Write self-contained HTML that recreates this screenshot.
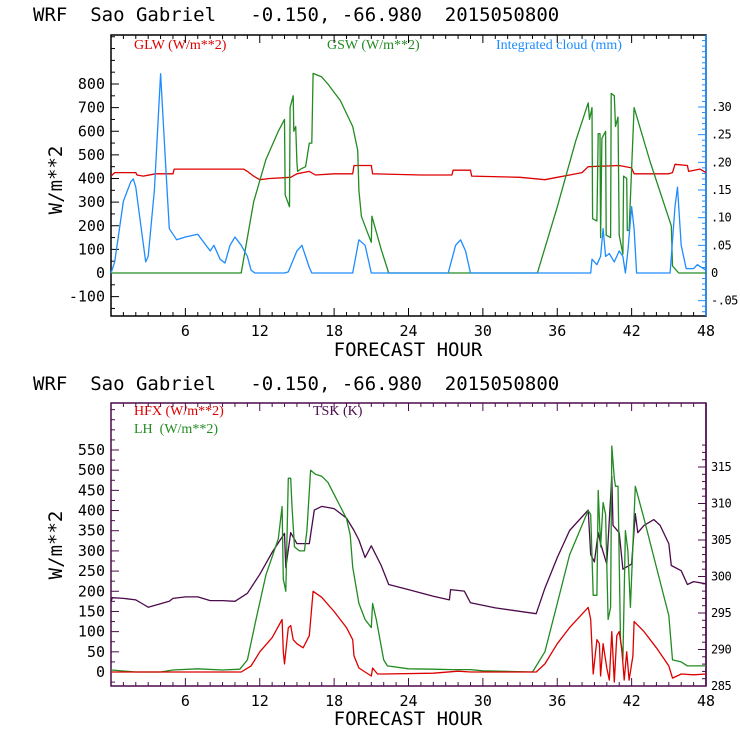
<!DOCTYPE html>
<html><head><meta charset="utf-8"><style>
html,body{margin:0;padding:0;background:#fff;width:740px;height:740px;overflow:hidden}
svg{display:block}
.t{font-family:"DejaVu Sans Mono","Liberation Mono",monospace;font-size:15px;fill:#000}
.r{font-family:"DejaVu Sans Mono","Liberation Mono",monospace;font-size:12px;fill:#000;letter-spacing:-0.5px}
.title{font-family:"DejaVu Sans Mono","Liberation Mono",monospace;font-size:19px;fill:#000}
.lg{font-family:"Liberation Serif",serif;font-size:14px;font-weight:normal}
</style></head><body>
<svg id="chart" width="740" height="740" viewBox="0 0 740 740" xmlns="http://www.w3.org/2000/svg">
<text class="title" x="33" y="21" xml:space="preserve">WRF  Sao Gabriel   -0.150, -66.980  2015050800</text>
<text class="title" x="33" y="390" xml:space="preserve">WRF  Sao Gabriel   -0.150, -66.980  2015050800</text>
<text class="lg" x="134" y="49" fill="#dd0000">GLW (W/m**2)</text>
<text class="lg" x="327" y="49" fill="#228b22">GSW (W/m**2)</text>
<text class="lg" x="496" y="49" fill="#1e8cff">Integrated cloud (mm)</text>
<text class="lg" x="134" y="415" fill="#dd0000">HFX (W/m**2)</text>
<text class="lg" x="134" y="433" fill="#228b22" xml:space="preserve">LH  (W/m**2)</text>
<text class="lg" x="313" y="415" fill="#4b0a4b">TSK (K)</text>
<text class="title" transform="translate(62,180) rotate(-90)" text-anchor="middle">W/m**2</text>
<text class="title" transform="translate(62,545) rotate(-90)" text-anchor="middle">W/m**2</text>
<text class="title" x="408" y="356" text-anchor="middle">FORECAST HOUR</text>
<text class="title" x="408" y="725" text-anchor="middle">FORECAST HOUR</text>
</svg>
<script>
// ---- top chart data ----
const glwHours = [0,0.3,2,2.1,2.6,3.6,5,5.1,10.7,11,11.5,12,12.8,14.5,15,16,16.5,18,19.5,19.6,21,21.1,25,27.5,27.6,29,29.1,33,35,36,37,38,38.5,41,42,42.2,45,45.3,45.5,46.5,46.6,47.5,48];
const glwValues = [410,425,425,415,410,420,420,440,440,430,410,395,400,405,420,430,415,420,420,455,455,420,415,415,435,435,410,405,395,405,415,425,450,455,445,420,420,425,460,455,430,440,425];
const gswHours = [0,10.5,11.5,12.5,13.5,14.0,14.05,14.4,14.45,14.7,14.75,14.9,15.0,15.05,15.3,15.7,16.0,16.2,16.3,17.0,17.5,18.5,19.5,19.9,20.0,20.2,20.7,21.0,21.05,21.8,22.4,34.4,36,37.5,38.5,38.6,38.8,38.85,39.2,39.3,39.45,39.5,39.6,39.9,39.95,40.3,40.35,40.6,40.7,40.9,41.0,41.3,41.35,41.6,41.65,41.8,42.2,43.5,45.2,45.3,45.8,48];
const gswValues = [0,0,300,480,600,650,330,280,700,750,600,620,470,430,440,450,550,550,845,830,800,730,620,520,350,240,170,130,240,100,0,0,280,560,720,650,700,230,220,590,590,150,570,600,160,150,760,750,620,660,160,80,410,400,180,180,700,470,200,30,0,0];
const cloudHours = [0,0.3,1,1.6,1.8,2,2.5,2.8,3.0,3.5,4.0,4.4,4.7,5.3,6,7,7.5,8,8.3,8.8,9.2,9.6,10,10.5,11,11.3,11.6,14,14.3,15,15.4,16,16.2,19.5,20,20.5,21,27.2,27.8,28.2,28.6,29,38.7,38.8,39.2,39.5,39.7,39.9,40.2,40.6,41,41.3,41.5,41.7,42,42.2,42.4,45.1,45.5,45.7,46,46.4,47,47.3,48];
const cloudValues = [0,0.02,0.13,0.165,0.17,0.155,0.07,0.02,0.03,0.15,0.36,0.2,0.08,0.06,0.065,0.07,0.055,0.04,0.05,0.025,0.018,0.05,0.065,0.05,0.03,0.005,0,0,0.002,0.04,0.05,0.01,0,0,0.06,0.05,0,0,0.05,0.06,0.04,0,0,0.025,0.015,0.03,0.08,0.03,0.035,0.02,0.04,0.03,0,0.04,0.12,0.08,0,0,0.12,0.155,0.05,0.008,0.008,0.015,0.005];
const topLeftTicks = [-100,0,100,200,300,400,500,600,700,800];
const topRightTicks = [-0.05,0,0.05,0.10,0.15,0.20,0.25,0.30];
const topRightLabels = ["-.05","0",".05",".10",".15",".20",".25",".30"];
// ---- bottom chart data ----
const tskHours = [0,0.1,1,2,2.5,3,4.7,5,6,7,8,9,10,11,12,13,14,14.1,14.5,15,16,16.4,17,18,19,19.6,20,20.5,21,21.8,22.4,24,26,27.3,27.4,28.5,29,31,34.3,35,36,37,38.5,38.7,39,39.3,39.5,40,40.4,40.5,41,41.3,41.5,42,42.3,42.5,43,43.8,44.3,45,45.2,46,46.5,47,48];
const tskValues = [296.5,297.1,297,296.8,296.3,295.8,296.6,297,297.2,297.2,296.7,296.7,296.6,297.7,300.3,303.3,305.9,301.2,306,304.5,304.5,309.1,309.6,309.3,308,306.3,305,302.6,304.2,301.5,298.9,298.2,297.3,296.8,298.2,298,296.4,295.7,294.9,298.4,302.6,306.3,309.1,303,302,306,304.5,301.7,313.7,307,306,301,301.2,301.7,308.6,306,307,307.8,307,304.5,301.5,300.8,298.9,299.3,299];
const hfxHours = [0,10.5,11.3,12,13,13.8,13.9,14.0,14.3,14.5,14.7,15,15.5,16,16.3,17,18,19,19.5,19.6,20,20.5,21,21.1,21.5,22,26,28,29,34.3,35,36,37,38.5,38.7,38.9,39.2,39.4,39.5,39.7,40,40.2,40.4,40.6,40.8,41,41.2,41.4,41.6,41.8,42.1,42.2,43,44,45,45.3,46,47,48];
const hfxValues = [0,0,15,50,85,130,50,20,110,115,80,70,60,90,200,185,150,110,80,40,10,0,-10,10,-5,-5,-3,2,0,0,20,70,110,160,130,-5,80,70,-10,70,10,-20,100,-25,90,100,60,-20,50,-20,40,125,100,60,15,-15,-5,-7,-5];
const lhHours = [0,2,4,5,7,9,10.4,11,11.7,12.5,13.5,13.8,13.9,14.1,14.3,14.5,14.6,14.8,15.2,15.6,15.8,16.1,16.5,17,17.5,18,18.5,19,19.3,19.5,20,20.5,21,21.1,21.4,22,22.3,24,26,27.5,29,30,34,35,36,37,38.5,38.7,38.9,39.2,39.3,39.5,39.7,39.9,40.1,40.3,40.4,40.6,40.7,40.9,41.1,41.3,41.5,41.7,41.9,42.3,43,44,45,45.3,46,46.5,48];
const lhValues = [5,0,0,5,8,5,7,30,130,240,330,410,230,200,480,480,410,310,300,300,350,500,490,485,470,440,410,380,340,260,170,130,110,170,130,30,15,8,7,6,6,3,0,50,170,290,400,390,190,190,450,310,420,390,130,160,560,480,460,460,80,30,350,300,160,460,380,260,140,30,25,15,15];
const botLeftTicks = [0,50,100,150,200,250,300,350,400,450,500,550];
const botRightTicks = [285,290,295,300,305,310,315];
const xTicks = [6,12,18,24,30,36,42,48];

const svg = document.getElementById('chart');
const NS = 'http://www.w3.org/2000/svg';
function mk(tag, attrs){const e=document.createElementNS(NS,tag);for(const k in attrs)e.setAttribute(k,attrs[k]);svg.appendChild(e);return e;}
const X0=111, X1=706;
function xs(h){return X0+(X1-X0)*h/48;}
function linScale(v0,p0,v1,p1){return v=>p0+(v-v0)*(p1-p0)/(v1-v0);}
const yTopL = linScale(0,273,800,84);
const yTopR = linScale(0,273,0.30,107);
const yBotL = linScale(0,672,550,450);
const yBotR = linScale(285,686,315,467);

function pathOf(hours, vals, ys){let d='';for(let i=0;i<hours.length;i++){d+=(i?'L':'M')+xs(hours[i]).toFixed(1)+','+ys(vals[i]).toFixed(1);}return d;}

function frame(top,bot,leftColor,rightColor,name){
  const r=mk('rect',{x:X0,y:top,width:X1-X0,height:bot-top,fill:'none',stroke:leftColor,'stroke-width':1.5});
  
  
  const rl=mk('line',{x1:X1,y1:top,x2:X1,y2:bot,stroke:rightColor,'stroke-width':1.5});
  
  
  for(let h=1;h<48;h++){
    const len=(h%6===0)?8:4;
    const x=xs(h);
    const t1=mk('line',{x1:x,y1:bot,x2:x,y2:bot-len,stroke:leftColor,'stroke-width':1});
    
    
    const t2=mk('line',{x1:x,y1:top,x2:x,y2:top+len,stroke:leftColor,'stroke-width':1});
    
    
  }
  xTicks.forEach(h=>{
    const t=mk('text',{x:xs(h),y:bot+20,'text-anchor':'middle',class:'t'});
    t.textContent=String(h);
    
    
  });
}
function leftTicks(ys,ticks,minorStep,vmin,vmax,color){
  for(let v=Math.ceil(vmin/minorStep)*minorStep;v<=vmax;v+=minorStep){
    const y=ys(v);const major=ticks.includes(v);
    const l=mk('line',{x1:X0,y1:y,x2:X0+(major?8:4),y2:y,stroke:color,'stroke-width':1});
    
    
  }
  ticks.forEach(v=>{
    const t=mk('text',{x:X0-6,y:ys(v)+5,'text-anchor':'end',class:'t'});
    t.textContent=String(v);
    
    
  });
}
function rightTicks(ys,ticks,labels,minorStep,vmin,vmax,color){
  const n=Math.round((vmax-vmin)/minorStep);
  for(let i=0;i<=n;i++){
    const v=vmin+i*minorStep;const y=ys(v);
    const major=ticks.some(t=>Math.abs(t-v)<1e-6);
    const l=mk('line',{x1:X1,y1:y,x2:X1-(major?8:4),y2:y,stroke:color,'stroke-width':1});
    
    
  }
  ticks.forEach((v,i)=>{
    const t=mk('text',{x:X1+5,y:ys(v)+4,class:'r'});
    t.textContent=labels[i];
    
    
  });
}
function series(hours,vals,ys,color,name){
  const p=mk('path',{d:pathOf(hours,vals,ys),fill:'none',stroke:color,'stroke-width':1.3,'stroke-linejoin':'round'});
  
  
}
frame(35,316,'#000','#1e8cff','top');
leftTicks(yTopL,topLeftTicks,50,-150,1000,'#000');
rightTicks(yTopR,topRightTicks,topRightLabels,0.01,-0.07,0.42,'#1e8cff');
series(glwHours,glwValues,yTopL,'#dd0000','glw-line');
series(gswHours,gswValues,yTopL,'#228b22','gsw-line');
series(cloudHours,cloudValues,yTopR,'#1e8cff','cloud-line');
frame(403,686,'#4b0a4b','#4b0a4b','bottom');
leftTicks(yBotL,botLeftTicks,25,-25,650,'#4b0a4b');
rightTicks(yBotR,botRightTicks,botRightTicks.map(String),1,285,318,'#4b0a4b');
series(tskHours,tskValues,yBotR,'#4b0a4b','tsk-line');
series(lhHours,lhValues,yBotL,'#228b22','lh-line');
series(hfxHours,hfxValues,yBotL,'#dd0000','hfx-line');
</script>
</body></html>
